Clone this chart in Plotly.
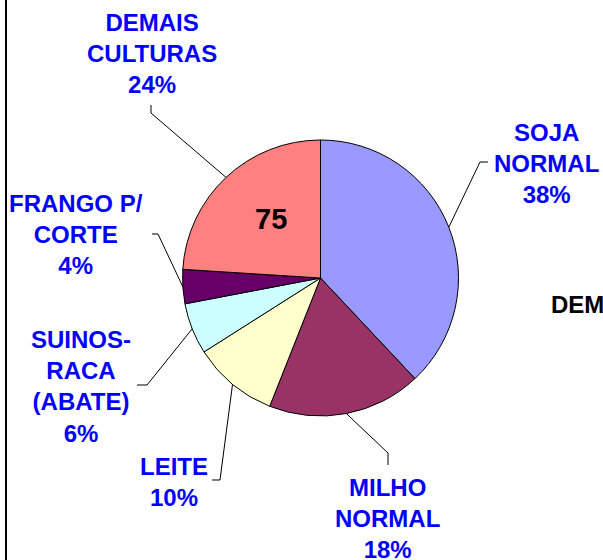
import math
import plotly.graph_objects as go

# ---- data ----
categories = ["SOJA NORMAL", "MILHO NORMAL", "LEITE", "SUINOS-RACA (ABATE)", "FRANGO P/ CORTE", "DEMAIS CULTURAS"]
values = [38, 18, 10, 6, 4, 24]
label_texts = ["SOJA<br>NORMAL<br>38%", "MILHO<br>NORMAL<br>18%", "LEITE<br>10%",
               "SUINOS-<br>RACA<br>(ABATE)<br>6%", "FRANGO P/<br>CORTE<br>4%", "DEMAIS<br>CULTURAS<br>24%"]
colors = ["#9999FF", "#993366", "#FFFFCC", "#CCFFFF", "#660066", "#FF8080"]
center_number = "75"
side_text = "DEMAIS"

# ---- layout (pixels) ----
W, H = 603, 560
CX, CY, R = 320.5, 278.0, 138.0

def px(x):
    return x / W

def py(y):
    return 1 - y / H

def bold(t):
    return "<br>".join(f"<b>{s}</b>" for s in t.split("<br>"))

# label anchor (block centre) and leader-line elbow / end points in pixel space
label_pos = [(546, 163), (387, 518), (174, 482), (81, 386), (76, 234), (152, 53)]
leader_pts = [
    [(480, 162), (488, 162)],
    [(388, 453), (388, 465)],
    [(220, 480), (212, 480)],
    [(147, 385), (137, 385)],
    [(158, 234), (152, 234)],
    [(151, 113), (151, 105)],
]

FONT = "Liberation Sans, Arial"

fig = go.Figure()
fig.add_trace(go.Pie(
    labels=categories, values=values, sort=False, direction="clockwise", rotation=0,
    marker=dict(colors=colors, line=dict(color="black", width=1)),
    textinfo="none", hoverinfo="label+percent", showlegend=False,
    domain=dict(x=[px(CX - R), px(CX + R)], y=[py(CY + R), py(CY - R)]),
))

shapes = []
annotations = []
total = sum(values)
cum = 0
for i, v in enumerate(values):
    mid = (cum + v / 2) / total * 2 * math.pi
    cum += v
    sx = CX + R * math.sin(mid)
    sy = CY - R * math.cos(mid)
    pts = [(sx, sy)] + leader_pts[i]
    path = "M " + " L ".join(f"{px(x):.5f},{py(y):.5f}" for x, y in pts)
    shapes.append(dict(type="path", path=path, xref="paper", yref="paper",
                       line=dict(color="black", width=1)))
    lx, ly = label_pos[i]
    annotations.append(dict(text=bold(label_texts[i]), x=px(lx), y=py(ly), xref="paper", yref="paper",
                            xanchor="center", yanchor="middle", showarrow=False, align="center",
                            font=dict(family=FONT, size=24, color="#0000FF")))

annotations.append(dict(text=bold(center_number), x=px(271), y=py(219), xref="paper", yref="paper",
                        xanchor="center", yanchor="middle", showarrow=False,
                        font=dict(family=FONT, size=29, color="black")))
annotations.append(dict(text=bold(side_text), x=px(549), y=py(304), xref="paper", yref="paper",
                        xanchor="left", yanchor="middle", showarrow=False,
                        font=dict(family=FONT, size=24, color="black")))

# left border line
shapes.append(dict(type="line", x0=px(6), x1=px(6), y0=0, y1=1, xref="paper", yref="paper",
                   line=dict(color="black", width=2)))

fig.update_layout(width=W, height=H, margin=dict(l=0, r=0, t=0, b=0),
                  paper_bgcolor="white", plot_bgcolor="white",
                  shapes=shapes, annotations=annotations)

fig.write_html("out.html", config={"displayModeBar": False},
               post_script="document.body.style.margin='0px';")
